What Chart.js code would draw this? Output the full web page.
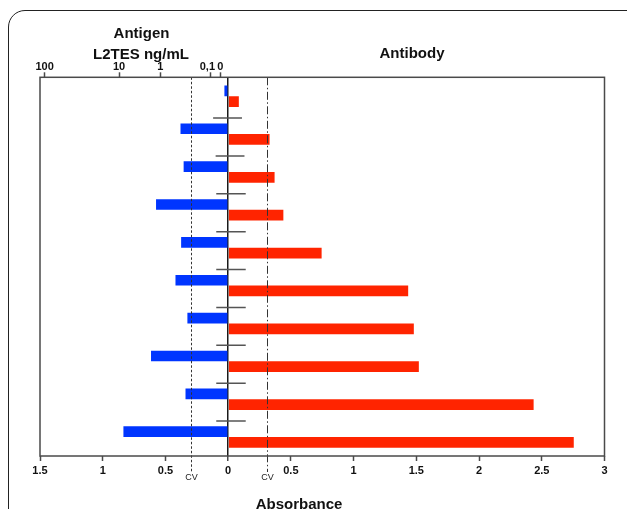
<!DOCTYPE html>
<html><head><meta charset="utf-8">
<script src="https://cdn.jsdelivr.net/npm/chart.js@4.4.1/dist/chart.umd.min.js"></script>
<style>
html,body{margin:0;padding:0;background:#fff;width:627px;height:509px;overflow:hidden;}
#wrap{position:relative;width:627px;height:509px;overflow:hidden;}
#frame{position:absolute;left:8px;top:9.5px;width:636px;height:540px;border:1.6px solid #222;border-radius:17px;box-sizing:border-box;}
canvas{position:absolute;left:0;top:0;}
.t{position:absolute;transform:translate(-50%,-50%);font:bold 15px "Liberation Sans",Arial,sans-serif;color:#111;white-space:nowrap;line-height:1;}
</style></head>
<body><div id="wrap"><div id="frame"></div><canvas id="c" width="627" height="509"></canvas>
<div class="t" style="left:141.5px;top:32px">Antigen</div>
<div class="t" style="left:141px;top:53px">L2TES ng/mL</div>
<div class="t" style="left:412px;top:52px">Antibody</div>
<div class="t" style="left:299px;top:502.5px">Absorbance</div>
</div>
<script>
// ---- data ----
const categories = ['1','2','3','4','5','6','7','8','9','10'];
const antigen  = [0.03, 0.38, 0.355, 0.575, 0.375, 0.42, 0.325, 0.615, 0.34, 0.835]; // drawn to the left
const antibody = [0.085, 0.33, 0.37, 0.44, 0.745, 1.435, 1.48, 1.52, 2.435, 2.755];
const errLow   = [null, -0.12, -0.10, -0.095, -0.095, -0.095, -0.095, -0.095, -0.095, -0.095];
const errHigh  = [null, 0.11, 0.13, 0.14, 0.14, 0.14, 0.14, 0.14, 0.14, 0.14];
const cvValues = [-0.3, 0.31];
const cvLabels = ['CV', 'CV'];
const topTickValues = [-1.463, -0.870, -0.540, -0.144, -0.062];
const topTickLabels = ['100', '10', '1', '0,1\u2002', '0'];

const BLUE = '#0035ff';
const RED = '#ff2400';
const AXIS = '#4a4a4a';
const FAM = '"Liberation Sans", Arial, sans-serif';
const tickFont = {family: FAM, size: 11, weight: 'bold'};

const antigenBars = antigen.map(v => -v);
const errorBars = errLow.map((lo, i) => lo === null ? null : [lo, errHigh[i]]);
const CAT = 1.13;

const overlay = {
  id: 'overlay',
  afterDatasetsDraw(chart) {
    const {ctx, chartArea: a, scales: {x}} = chart;
    ctx.save();
    cvValues.forEach((v, i) => {
      const px = Math.round(x.getPixelForValue(v)) + 0.5;
      ctx.beginPath();
      ctx.setLineDash(i === 0 ? [2.5, 2] : [8, 2.5, 1.5, 2.5]);
      ctx.strokeStyle = '#333';
      ctx.lineWidth = 1;
      ctx.moveTo(px, a.top);
      ctx.lineTo(px, a.bottom + 16);
      ctx.stroke();
      ctx.setLineDash([]);
      ctx.fillStyle = '#222';
      ctx.font = '9px ' + FAM;
      ctx.textAlign = 'center';
      ctx.textBaseline = 'middle';
      ctx.fillText(cvLabels[i], px, a.bottom + 21.5);
    });
    ctx.strokeStyle = AXIS;
    ctx.lineWidth = 1.5;
    ctx.strokeRect(a.left, a.top, a.right - a.left, a.bottom - a.top);
    ctx.restore();
  }
};

new Chart(document.getElementById('c'), {
  type: 'bar',
  data: {
    labels: categories,
    datasets: [
      {label: 'SD', data: errorBars, backgroundColor: '#555', barPercentage: 0.14, categoryPercentage: CAT},
      {label: 'Antigen', data: antigenBars, backgroundColor: BLUE, barPercentage: 1, categoryPercentage: CAT},
      {label: 'Antibody', data: antibody, backgroundColor: RED, barPercentage: 1, categoryPercentage: CAT},
      {label: 'spacer', data: categories.map(() => null), backgroundColor: 'rgba(0,0,0,0)', barPercentage: 1, categoryPercentage: CAT}
    ]
  },
  options: {
    indexAxis: 'y',
    responsive: false,
    animation: false,
    devicePixelRatio: 1,
    layout: {padding: {left: 40, right: 22.5, top: 0, bottom: 0}},
    plugins: {legend: {display: false}, tooltip: {enabled: false}},
    scales: {
      y: {type: 'category', display: false, offset: true},
      x: {
        type: 'linear', position: 'bottom', min: -1.5, max: 3,
        ticks: {stepSize: 0.5, autoSkip: false, maxRotation: 0, padding: 3, color: '#111', font: tickFont,
          callback: v => String(Math.round(Math.abs(v) * 10) / 10)},
        grid: {
          drawOnChartArea: true, drawTicks: true, tickLength: 5, tickColor: AXIS, tickWidth: 1.5,
          color: c => (c.tick && c.tick.value === 0) ? '#1a1a1a' : 'rgba(0,0,0,0)',
          lineWidth: c => (c.tick && c.tick.value === 0) ? 1.5 : 1
        },
        border: {display: false},
        afterFit(s) { s.height = 53; }
      },
      x2: {
        type: 'linear', position: 'top', min: -1.5, max: 3,
        afterBuildTicks(s) { s.ticks = topTickValues.map(v => ({value: v})); },
        ticks: {autoSkip: false, maxRotation: 0, padding: -1, color: '#111', font: tickFont,
          callback: (v, i) => topTickLabels[i]},
        grid: {drawOnChartArea: false, drawTicks: true, tickLength: 5, tickColor: AXIS, tickWidth: 1.5},
        border: {display: false},
        afterFit(s) { s.height = 77.3; }
      }
    }
  },
  plugins: [overlay]
});
</script>
</body></html>
